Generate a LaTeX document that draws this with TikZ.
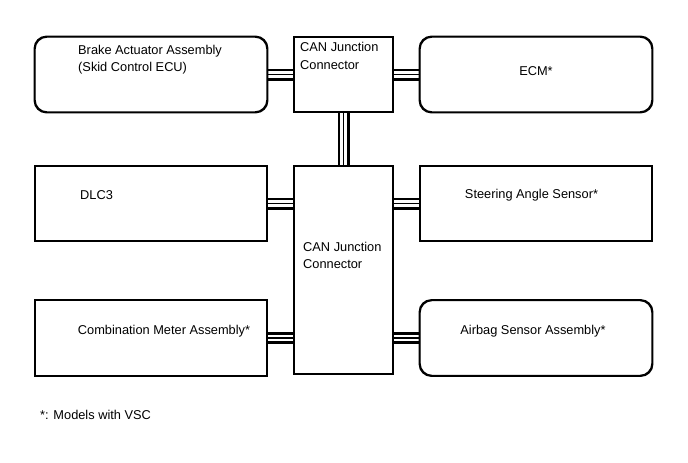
\documentclass[tikz,border=0pt]{standalone}
\usepackage{fontspec}
\setmainfont{Liberation Sans}
\begin{document}
\begin{tikzpicture}[x=1pt,y=-1pt,
  box/.style={draw=black,line width=1.4pt,fill=white,inner sep=0pt,minimum width=232pt,minimum height=75pt},
  rbox/.style={box,rounded corners=12pt},
  cbox/.style={draw=black,line width=1.4pt,fill=white,inner sep=0pt,minimum width=99pt},
  lbl/.style={inner sep=0pt,font=\fontsize{12.8}{17.5}\selectfont,align=left},
  busouter/.style={draw=black,line width=12pt},
  businner/.style={draw=white,line width=6.8pt},
  busmid/.style={draw=black,line width=1.3pt}
]
\useasboundingbox (0,0) rectangle (688,463);
% boxes
\node[rbox] (brake) at (151,74.5) {};
\node[cbox,minimum height=75pt] (canA) at (343.5,74.5) {};
\node[rbox] (ecm) at (536,74.5) {};
\node[box] (dlc) at (151,203.5) {};
\node[cbox,minimum height=208pt] (canB) at (343.5,270) {};
\node[box] (steer) at (536,203.5) {};
\node[box] (comb) at (151,338) {};
\node[rbox] (airbag) at (536,338) {};
% buses
\foreach \a/\b in {brake.east/canA.west, canA.east/ecm.west}{
  \path[busouter] (\a) -- (\b);
  \path[businner] (\a) -- (\b);
  \path[busmid] (\a) -- (\b);
}
\path[busouter] (canA.south) -- (canB.north);
\path[businner] (canA.south) -- (canB.north);
\path[busmid] (canA.south) -- (canB.north);
\foreach \a/\b in {dlc.east/canB.west, steer.west/canB.east, comb.east/canB.west, airbag.west/canB.east}{
  \path[busouter] (\a) -- (\a -| \b);
  \path[businner] (\a) -- (\a -| \b);
  \path[busmid] (\a) -- (\a -| \b);
}
% redraw borders over bus ends
\draw[line width=1.4pt] (canA.north west) rectangle (canA.south east);
\draw[line width=1.4pt] (canB.north west) rectangle (canB.south east);
\draw[line width=1.4pt] (dlc.north west) rectangle (dlc.south east);
\draw[line width=1.4pt] (steer.north west) rectangle (steer.south east);
\draw[line width=1.4pt] (comb.north west) rectangle (comb.south east);
\draw[line width=1.4pt,rounded corners=12pt] (brake.north west) rectangle (brake.south east);
\draw[line width=1.4pt,rounded corners=12pt] (ecm.north west) rectangle (ecm.south east);
\draw[line width=1.4pt,rounded corners=12pt] (airbag.north west) rectangle (airbag.south east);
% labels
\node[lbl,anchor=west] (tbrake) at (78,59.5) {Brake Actuator Assembly\\(Skid Control ECU)};
\node[lbl,anchor=west] (tcanA) at (300,56) {CAN Junction\\Connector};
\node[lbl] (tecm) at (536,71) {ECM*};
\node[lbl,anchor=west] (tdlc) at (80,195) {DLC3};
\node[lbl] (tsteer) at (531.5,195) {Steering Angle Sensor*};
\node[lbl,anchor=west] (tcanB) at (303,255.5) {CAN Junction\\Connector};
\node[lbl] (tcomb) at (164,331) {Combination Meter Assembly*};
\node[lbl] (tair) at (533,331) {Airbag Sensor Assembly*};
\node[lbl,anchor=west] (tnote) at (40,415) {*: Models with VSC};
\end{tikzpicture}
\end{document}
